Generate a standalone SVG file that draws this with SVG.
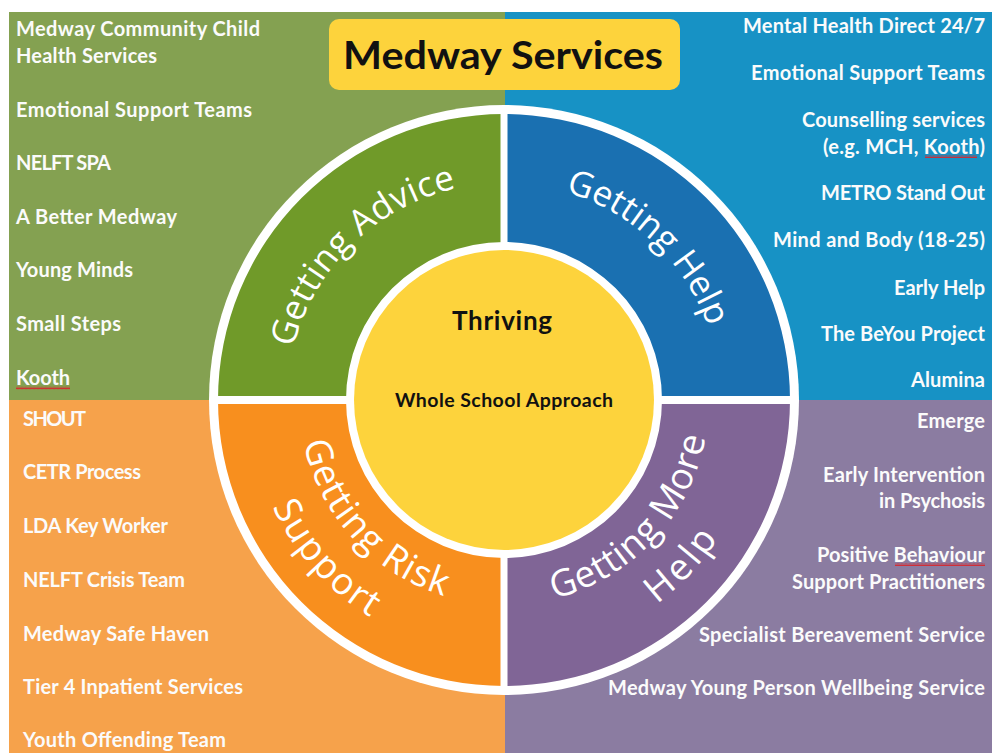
<svg xmlns="http://www.w3.org/2000/svg" xmlns:xlink="http://www.w3.org/1999/xlink" width="992" height="753" viewBox="0 0 992 753">
  <style>
    .item { font-family: Lato, "Open Sans", "Liberation Sans", sans-serif; font-weight: 700; font-size: 20px; fill: #fbfbfb; }
    .end { text-anchor: end; }
    .ring { font-family: "Open Sans", "Noto Sans", "Liberation Sans", sans-serif; font-weight: 400; fill: #ffffff; }
    .core { font-family: Lato, "Open Sans", "Liberation Sans", sans-serif; font-weight: 700; fill: #111111; text-anchor: middle; }
    .gap { fill: #ffffff; }
  </style>
  <defs>
    <!-- spell-check squiggle -->
    <pattern id="squiggle" width="4" height="3" patternUnits="userSpaceOnUse">
      <polyline points="0,2.5 1,0.5 2,2.5 3,0.5 4,2.5" fill="none" stroke="#d8262c" stroke-width="0.9"/>
    </pattern>
    <!-- label baselines around the wheel centre (504,400) -->
    <path id="arcTop" d="M 287 400 A 217 217 0 0 1 721 400"/>
    <path id="arcBotIn" d="M 299 400 A 205 205 0 0 0 709 400"/>
    <path id="arcBotOut" d="M 249 400 A 255 255 0 0 0 759 400"/>
  </defs>

  <rect width="992" height="753" fill="#ffffff"/>

  <!-- quadrant panels -->
  <g id="panels">
    <rect x="9" y="12" width="496" height="388" fill="#84a151"/>
    <rect x="505" y="12" width="487" height="388" fill="#1792c5"/>
    <rect x="9" y="400" width="496" height="353" fill="#f6a24b"/>
    <rect x="505" y="400" width="487" height="353" fill="#8b7ca1"/>
  </g>

  <!-- title -->
  <g id="title">
    <rect x="329" y="19" width="351" height="71" rx="10" fill="#fdd33c"/>
    <text class="core" x="503" y="68.5" font-size="39" textLength="320" lengthAdjust="spacingAndGlyphs">Medway Services</text>
  </g>

  <!-- wheel -->
  <circle cx="504" cy="400" r="295" fill="#ffffff"/>

  <g id="getting-advice">
    <path d="M 218 400 A 286 286 0 0 1 504 114 L 504 242 A 158 158 0 0 0 346 400 Z" fill="#709a29"/>
    <text class="ring" font-size="35"><textPath xlink:href="#arcTop" href="#arcTop" startOffset="52.6" textLength="240">Getting Advice</textPath></text>
  </g>

  <g id="getting-help">
    <path d="M 504 114 A 286 286 0 0 1 790 400 L 662 400 A 158 158 0 0 0 504 242 Z" fill="#1a70b1"/>
    <text class="ring" font-size="35"><textPath xlink:href="#arcTop" href="#arcTop" startOffset="402.6" textLength="204">Getting Help</textPath></text>
  </g>

  <g id="getting-more-help">
    <path d="M 790 400 A 286 286 0 0 1 504 686 L 504 558 A 158 158 0 0 0 662 400 Z" fill="#806596"/>
    <text class="ring" font-size="37"><textPath xlink:href="#arcBotIn" href="#arcBotIn" startOffset="372.5" textLength="233.7">Getting More</textPath><textPath xlink:href="#arcBotOut" href="#arcBotOut" startOffset="564.3" textLength="90">Help</textPath></text>
  </g>

  <g id="getting-risk-support">
    <path d="M 504 686 A 286 286 0 0 1 218 400 L 346 400 A 158 158 0 0 0 504 558 Z" fill="#f88f1e"/>
    <text class="ring" font-size="37"><textPath xlink:href="#arcBotIn" href="#arcBotIn" startOffset="42.9" textLength="217.9">Getting Risk</textPath><textPath xlink:href="#arcBotOut" href="#arcBotOut" startOffset="109.9" textLength="149.8">Support</textPath></text>
  </g>

  <!-- white dividers between the ring segments -->
  <g id="dividers">
    <rect class="gap" x="210" y="396" width="588" height="8"/>
    <rect class="gap" x="500.5" y="106" width="7" height="588"/>
  </g>

  <g id="thriving">
    <circle cx="504" cy="400" r="150" fill="#fdd33c"/>
    <text class="core" x="502" y="329.5" font-size="26" textLength="100">Thriving</text>
    <text class="core" x="504" y="407" font-size="19.5" textLength="218">Whole School Approach</text>
  </g>

  <!-- services: getting advice -->
  <g id="list-advice">
    <text class="item" x="16" y="36" textLength="244">Medway Community Child</text>
    <text class="item" x="16" y="63" textLength="141">Health Services</text>
    <text class="item" x="16" y="117" textLength="236">Emotional Support Teams</text>
    <text class="item" x="16" y="170" textLength="95">NELFT SPA</text>
    <text class="item" x="16" y="223.5" textLength="161">A Better Medway</text>
    <text class="item" x="16" y="277" textLength="117">Young Minds</text>
    <text class="item" x="16" y="331" textLength="105">Small Steps</text>
    <text class="item" x="16" y="384.5" textLength="54">Kooth</text>
    <rect x="16" y="386.5" width="54" height="3" fill="url(#squiggle)"/>
  </g>

  <!-- services: getting help -->
  <g id="list-help">
    <text class="item end" x="985" y="33" textLength="242">Mental Health Direct 24/7</text>
    <text class="item end" x="985" y="80" textLength="234">Emotional Support Teams</text>
    <text class="item end" x="985" y="127" textLength="183">Counselling services</text>
    <text class="item end" x="985" y="153.5" textLength="162">(e.g. MCH, Kooth)</text>
    <rect x="925" y="155" width="52" height="3" fill="url(#squiggle)"/>
    <text class="item end" x="985" y="200" textLength="164">METRO Stand Out</text>
    <text class="item end" x="985" y="247" textLength="212">Mind and Body (18-25)</text>
    <text class="item end" x="985" y="295" textLength="91">Early Help</text>
    <text class="item end" x="985" y="341" textLength="164">The BeYou Project</text>
    <text class="item end" x="985" y="387" textLength="74">Alumina</text>
  </g>

  <!-- services: getting risk support -->
  <g id="list-risk">
    <text class="item" x="23" y="426" textLength="63">SHOUT</text>
    <text class="item" x="23" y="479" textLength="118">CETR Process</text>
    <text class="item" x="23" y="533" textLength="145">LDA Key Worker</text>
    <text class="item" x="23" y="587" textLength="162">NELFT Crisis Team</text>
    <text class="item" x="23" y="641" textLength="186">Medway Safe Haven</text>
    <text class="item" x="23" y="694" textLength="220">Tier 4 Inpatient Services</text>
    <text class="item" x="23" y="747" textLength="203">Youth Offending Team</text>
  </g>

  <!-- services: getting more help -->
  <g id="list-more-help">
    <text class="item end" x="985" y="428" textLength="68">Emerge</text>
    <text class="item end" x="985" y="482" textLength="162">Early Intervention</text>
    <text class="item end" x="985" y="508" textLength="106">in Psychosis</text>
    <text class="item end" x="985" y="561.5" textLength="168">Positive Behaviour</text>
    <rect x="895" y="563" width="90" height="3" fill="url(#squiggle)"/>
    <text class="item end" x="985" y="589" textLength="193">Support Practitioners</text>
    <text class="item end" x="985" y="642" textLength="286">Specialist Bereavement Service</text>
    <text class="item end" x="985" y="695" textLength="377">Medway Young Person Wellbeing Service</text>
  </g>
</svg>
